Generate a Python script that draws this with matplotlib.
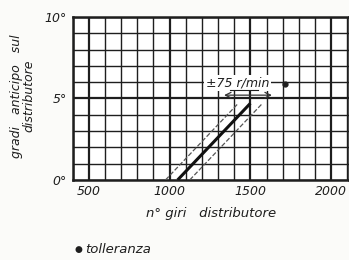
import numpy as np
import matplotlib.pyplot as plt

# dati
giri = [1050, 1500]          # n° giri distributore
gradi = [0, 4.7]             # gradi anticipo
toll = 75                    # tolleranza r/min
x_ticks = [500, 1000, 1500, 2000]
y_ticks = [0, 5, 10]
y_labels = ['0°', '5°', '10°']

fig = plt.figure(figsize=(3.49, 2.6), dpi=100)
fig.patch.set_facecolor('#fbfbf9')
ax = fig.add_axes([0.208, 0.308, 0.792, 0.627])
ax.set_facecolor('white')
ax.set_xlim(400, 2110)
ax.set_ylim(0, 10)

# griglia
for x in range(400, 2200, 100):
    lw = 1.6 if x % 500 == 0 else 1.0
    ax.axvline(x, color='#1e1e1e', lw=lw, zorder=1)
for y in range(0, 11):
    lw = 1.6 if y == 5 else 1.0
    ax.axhline(y, color='#1e1e1e', lw=lw, zorder=1)
for s in ax.spines.values():
    s.set_linewidth(1.8)
    s.set_color('#1e1e1e')

# curva e tolleranza
ax.plot(giri, gradi, color='#111111', lw=2.2, zorder=4, solid_capstyle='butt')
ax.plot([g - toll for g in giri], gradi, '--', color='#555555', lw=0.9, zorder=3)
ax.plot([g + toll for g in giri], gradi, '--', color='#555555', lw=0.9, zorder=3)

ax.annotate('', xy=(1320, 5.2), xytext=(1650, 5.2),
            arrowprops=dict(arrowstyle='<->', color='#333333', lw=0.9), zorder=5)
ax.text(1420, 5.95, '±75 r/min', ha='center', va='center', fontsize=9,
        style='italic', color='#1e1e1e', zorder=6,
        bbox=dict(facecolor='white', edgecolor='none', pad=1.2))
ax.plot([1375, 1545], [5.5, 5.5], color='#1e1e1e', lw=0.8, zorder=7)
ax.plot([1715], [5.9], 'o', color='#1e1e1e', ms=3.5, zorder=6)

ax.set_xticks(x_ticks)
ax.set_xticklabels([str(v) for v in x_ticks], style='italic', fontsize=9, color='#1e1e1e')
ax.set_yticks(y_ticks)
ax.set_yticklabels(y_labels, style='italic', fontsize=9, color='#1e1e1e')
ax.tick_params(length=0, pad=4)

ax.set_xlabel('n° giri   distributore', style='italic', fontsize=9.5, color='#1e1e1e', labelpad=6)
fig.text(0.065, 0.63, 'gradi   anticipo   sul\ndistributore', rotation=90, ha='center',
         va='center', style='italic', fontsize=9, color='#1e1e1e', linespacing=0.85)
fig.text(0.213, 0.04, '●', fontsize=6.5, color='#1e1e1e', va='center')
fig.text(0.245, 0.04, 'tolleranza', style='italic', fontsize=9.5, color='#1e1e1e', va='center')

fig.savefig('out.png', dpi=100, facecolor=fig.get_facecolor())
